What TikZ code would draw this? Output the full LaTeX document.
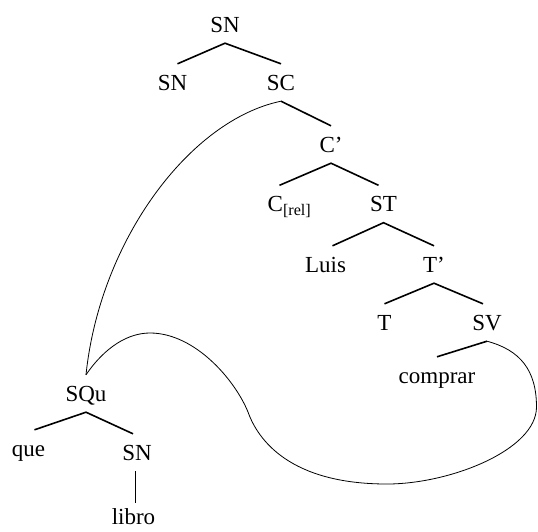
\documentclass[tikz,border=0pt]{standalone}
\usepackage{fontspec}
\setmainfont{Liberation Serif}
\usetikzlibrary{calc}
\tikzset{
  lbl/.style={font=\fontsize{23}{27}\selectfont,text height=15pt,text depth=0pt,inner xsep=1pt,inner ysep=11pt},
  leaf/.style={lbl,inner ysep=2pt},
  branch/.style={draw=black,line width=1.6pt},
  movecurve/.style={draw=black,line width=0.8pt}
}
\begin{document}
\begin{tikzpicture}[x=1pt,y=1pt]
\useasboundingbox (0,0) rectangle (538,-531);
% labels
\node[lbl] (sntop) at (225,-24.5) {SN};
\node[lbl] (snl) at (172.5,-82.5) {SN};
\node[lbl] (sc) at (281,-82.5) {SC};
\node[lbl] (cbar) at (331,-144.5) {C’};
\node[lbl] (crel) at (289.5,-204) {C\textsubscript{[rel]}};
\node[lbl] (st) at (383.5,-204) {ST};
\node[lbl] (luis) at (325.5,-264.5) {Luis};
\node[lbl] (tbar) at (434,-264.5) {T’};
\node[lbl] (t) at (384.5,-322.5) {T};
\node[lbl] (sv) at (487,-322.5) {SV};
\node[lbl] (comprar) at (437,-375.5) {comprar};
\node[lbl] (squ) at (86,-393.5) {SQu};
\node[lbl] (que) at (28.5,-448.5) {que};
\node[lbl] (snb) at (137,-452.5) {SN};
\node[leaf] (libro) at (133.5,-517) {libro};
% branches
\draw[branch] ([xshift=5pt]snl.north) -- (sntop.south) -- (sc.north);
\draw[branch] (sc.south) -- (cbar.north);
\draw[branch] ([xshift=-10pt]crel.north) -- (cbar.south) -- ([xshift=-5pt]st.north);
\draw[branch] ([xshift=7pt]luis.north) -- (st.south) -- (tbar.north);
\draw[branch] (t.north) -- (tbar.south) -- ([xshift=-4pt]sv.north);
\draw[branch] (comprar.north) -- (sv.south);
\draw[branch] ([xshift=6pt]que.north) -- (squ.south) -- ([xshift=-4pt]snb.north);
\draw[movecurve] ([xshift=-2pt]snb.south) -- ([xshift=-2pt,yshift=4pt]snb.south |- libro.north);
% movement curves
\draw[movecurve] (sc.south) .. controls (190,-120) and (100,-240) .. (squ.north);
\draw[movecurve] (squ.north) .. controls (105,-347) and (128,-333) .. (150,-333)
  .. controls (195,-333) and (235,-380) .. (248,-412)
  .. controls (258,-440) and (290,-484) .. (387,-484)
  .. controls (450,-484) and (536.5,-450) .. (536.5,-407)
  .. controls (536.5,-370) and (520,-350) .. (sv.south);
\end{tikzpicture}
\end{document}
